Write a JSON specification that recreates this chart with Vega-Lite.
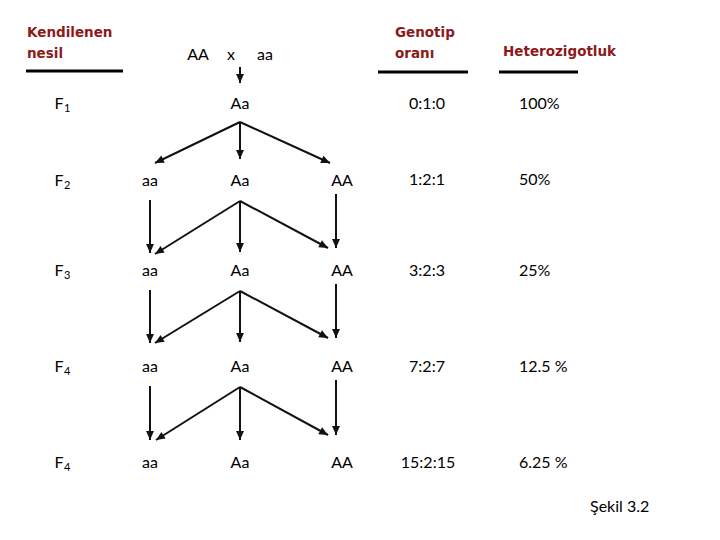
{
  "$schema": "https://vega.github.io/schema/vega-lite/v6.json",
  "width": 720,
  "height": 540,
  "padding": 0,
  "autosize": {"type": "fit", "contains": "padding"},
  "background": "white",
  "config": {"view": {"stroke": null}, "axis": null},
  "datasets": {
    "headers": [
      {"label": "Kendilenen", "x": 27, "y": 33},
      {"label": "nesil", "x": 27, "y": 54},
      {"label": "Genotip", "x": 395, "y": 33},
      {"label": "oranı", "x": 395, "y": 54},
      {"label": "Heterozigotluk", "x": 503, "y": 52}
    ],
    "underlines": [
      {"x": 26, "x2": 123, "y": 71},
      {"x": 378, "x2": 468, "y": 72},
      {"x": 499, "x2": 578, "y": 72}
    ],
    "cells": [
      {"label": "AA", "x": 198, "y": 55},
      {"label": "x", "x": 231, "y": 55},
      {"label": "aa", "x": 265, "y": 55},
      {"label": "Aa", "x": 240, "y": 104},
      {"label": "aa", "x": 150, "y": 181},
      {"label": "Aa", "x": 240, "y": 181},
      {"label": "AA", "x": 342, "y": 181},
      {"label": "aa", "x": 150, "y": 271},
      {"label": "Aa", "x": 240, "y": 271},
      {"label": "AA", "x": 342, "y": 271},
      {"label": "aa", "x": 150, "y": 367},
      {"label": "Aa", "x": 240, "y": 367},
      {"label": "AA", "x": 342, "y": 367},
      {"label": "aa", "x": 150, "y": 463},
      {"label": "Aa", "x": 240, "y": 463},
      {"label": "AA", "x": 342, "y": 463},
      {"label": "0:1:0", "x": 427, "y": 104},
      {"label": "1:2:1", "x": 427, "y": 180},
      {"label": "3:2:3", "x": 427, "y": 271},
      {"label": "7:2:7", "x": 427, "y": 367},
      {"label": "15:2:15", "x": 428, "y": 463}
    ],
    "percents": [
      {"label": "100%", "x": 519, "y": 104},
      {"label": "50%", "x": 519, "y": 180},
      {"label": "25%", "x": 519, "y": 271},
      {"label": "12.5 %", "x": 519, "y": 367},
      {"label": "6.25 %", "x": 519, "y": 463},
      {"label": "Şekil 3.2", "x": 590, "y": 507}
    ],
    "gens": [
      {"gen": "F", "sub": "1", "x": 59, "y": 104},
      {"gen": "F", "sub": "2", "x": 59, "y": 181},
      {"gen": "F", "sub": "3", "x": 59, "y": 271},
      {"gen": "F", "sub": "4", "x": 59, "y": 367},
      {"gen": "F", "sub": "4", "x": 59, "y": 463}
    ],
    "arrows": [
      {"x": 240, "y": 67, "x2": 240, "y2": 83},
      {"x": 240, "y": 122, "x2": 155, "y2": 163},
      {"x": 240, "y": 122, "x2": 240, "y2": 159},
      {"x": 240, "y": 122, "x2": 330, "y2": 163},
      {"x": 150, "y": 200, "x2": 150, "y2": 253},
      {"x": 240, "y": 201, "x2": 155, "y2": 254},
      {"x": 240, "y": 201, "x2": 240, "y2": 252},
      {"x": 240, "y": 201, "x2": 328, "y2": 248},
      {"x": 336, "y": 194, "x2": 336, "y2": 248},
      {"x": 150, "y": 290, "x2": 150, "y2": 343},
      {"x": 240, "y": 291, "x2": 155, "y2": 343},
      {"x": 240, "y": 291, "x2": 240, "y2": 342},
      {"x": 240, "y": 291, "x2": 328, "y2": 338},
      {"x": 336, "y": 284, "x2": 336, "y2": 338},
      {"x": 150, "y": 386, "x2": 150, "y2": 440},
      {"x": 240, "y": 387, "x2": 156, "y2": 440},
      {"x": 240, "y": 387, "x2": 240, "y2": 440},
      {"x": 240, "y": 387, "x2": 328, "y2": 435},
      {"x": 336, "y": 380, "x2": 336, "y2": 435}
    ]
  },
  "layer": [
    {
      "data": {"name": "underlines"},
      "mark": {"type": "rule", "strokeWidth": 3, "color": "#000000"},
      "encoding": {
        "x": {"field": "x", "type": "quantitative", "scale": {"domain": [0, 720], "nice": false, "zero": false}, "axis": null},
        "x2": {"field": "x2"},
        "y": {"field": "y", "type": "quantitative", "scale": {"domain": [0, 540], "reverse": true, "nice": false, "zero": false}, "axis": null}
      }
    },
    {
      "data": {"name": "arrows"},
      "mark": {"type": "rule", "strokeWidth": 2, "color": "#111111"},
      "encoding": {
        "x": {"field": "x", "type": "quantitative"},
        "y": {"field": "y", "type": "quantitative"},
        "x2": {"field": "x2"},
        "y2": {"field": "y2"}
      }
    },
    {
      "data": {"name": "arrows"},
      "transform": [
        {"calculate": "atan2(datum.x2 - datum.x, datum.y - datum.y2) * 180 / PI", "as": "ang"}
      ],
      "mark": {"type": "point", "shape": "M0,0L-0.75,1.7L0.75,1.7Z", "filled": true, "opacity": 1, "color": "#111111", "size": 110, "strokeWidth": 0},
      "encoding": {
        "x": {"field": "x2", "type": "quantitative"},
        "y": {"field": "y2", "type": "quantitative"},
        "angle": {"field": "ang", "type": "quantitative", "scale": null}
      }
    },
    {
      "data": {"name": "headers"},
      "mark": {"type": "text", "align": "left", "baseline": "middle", "font": "DejaVu Sans", "fontWeight": "bold", "fontSize": 13.5, "color": "#8B1A1A"},
      "encoding": {
        "x": {"field": "x", "type": "quantitative"},
        "y": {"field": "y", "type": "quantitative"},
        "text": {"field": "label"}
      }
    },
    {
      "data": {"name": "cells"},
      "mark": {"type": "text", "align": "center", "baseline": "middle", "font": "Lato", "fontSize": 16, "color": "#000000"},
      "encoding": {
        "x": {"field": "x", "type": "quantitative"},
        "y": {"field": "y", "type": "quantitative"},
        "text": {"field": "label"}
      }
    },
    {
      "data": {"name": "percents"},
      "mark": {"type": "text", "align": "left", "baseline": "middle", "font": "Lato", "fontSize": 16, "color": "#000000"},
      "encoding": {
        "x": {"field": "x", "type": "quantitative"},
        "y": {"field": "y", "type": "quantitative"},
        "text": {"field": "label"}
      }
    },
    {
      "data": {"name": "gens"},
      "mark": {"type": "text", "align": "center", "baseline": "middle", "font": "Lato", "fontSize": 16, "color": "#000000"},
      "encoding": {
        "x": {"field": "x", "type": "quantitative"},
        "y": {"field": "y", "type": "quantitative"},
        "text": {"field": "gen"}
      }
    },
    {
      "data": {"name": "gens"},
      "mark": {"type": "text", "align": "left", "baseline": "middle", "font": "Lato", "fontSize": 11, "dx": 5, "dy": 5, "color": "#000000"},
      "encoding": {
        "x": {"field": "x", "type": "quantitative"},
        "y": {"field": "y", "type": "quantitative"},
        "text": {"field": "sub"}
      }
    }
  ]
}
